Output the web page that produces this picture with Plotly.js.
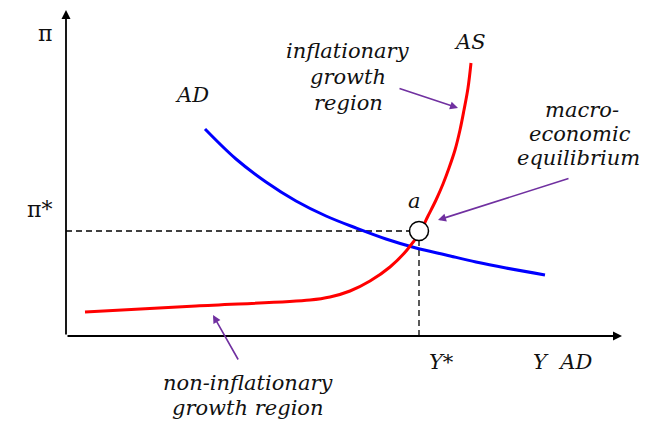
<!DOCTYPE html>
<html>
<head>
<meta charset="utf-8">
<script src="https://cdn.plot.ly/plotly-3.0.1.min.js"></script>
<style>
  html, body { margin: 0; padding: 0; background: #fff; }
  #chart { width: 653px; height: 424px; }
</style>
</head>
<body>
<div id="chart"></div>
<script>
// curve points, output on x, inflation on y (origin at the axes corner)
var ad_x = [139, 170, 200, 230, 260, 290, 320, 350, 380, 410, 440, 479];
var ad_y = [207, 177, 154, 135, 120, 108, 97, 88, 81, 74, 68, 61];

var as_x = [19, 130, 244, 264, 284, 304, 324, 341, 354, 362, 370, 377, 383, 389, 394, 398, 402, 405];
var as_y = [24, 30, 36, 39, 45, 55, 69, 86, 104, 120, 136, 152, 168, 186, 206, 226, 248, 273];

// equilibrium
var eq_x = [353];
var eq_y = [105];

// labels
var label_text = ['AD', 'AS', 'a', 'Y*', 'Y  AD',
                  'inflationary', 'growth', 'region',
                  'macro-', 'economic', 'equilibrium',
                  'non-inflationary', 'growth region'];
var label_x = [126, 404, 348, 375, 496, 282, 282, 282, 516, 514, 512, 182, 182];
var label_y = [241, 294, 135, -26, -26, 285, 259, 233, 226, 202, 178, -47, -72];

// purple arrows: head and tail
var arrow_head_x = [392, 372, 147];
var arrow_head_y = [228, 116, 21];
var arrow_tail_x = [332, 504, 173];
var arrow_tail_y = [248, 158, -25];

var fontFam = 'DejaVu Serif';
var purple = '#7030A0';

var traces = [
  {x: [0, eq_x[0]], y: [eq_y[0], eq_y[0]], mode: 'lines',
   line: {color: 'black', width: 1.3, dash: '6px,4px'}},
  {x: [eq_x[0], eq_x[0]], y: [0, eq_y[0]], mode: 'lines',
   line: {color: 'black', width: 1.3, dash: '6px,4px'}},
  {x: ad_x, y: ad_y, mode: 'lines',
   line: {color: '#0000ff', width: 3, shape: 'spline', smoothing: 1, simplify: false}},
  {x: as_x, y: as_y, mode: 'lines',
   line: {color: '#ff0000', width: 3, shape: 'spline', smoothing: 1, simplify: false}},
  {x: eq_x, y: eq_y, mode: 'markers',
   marker: {size: 19, color: 'white', line: {color: 'black', width: 1.5}}}
];

var annotations = [];
// axes with arrow heads
annotations.push({x: 556, y: 0, ax: 0, ay: 0, xref: 'x', yref: 'y', axref: 'x', ayref: 'y',
  text: '', showarrow: true, arrowhead: 2, arrowsize: 1, arrowwidth: 1.8, arrowcolor: 'black', standoff: 0});
annotations.push({x: 0, y: 326, ax: 0, ay: 0, xref: 'x', yref: 'y', axref: 'x', ayref: 'y',
  text: '', showarrow: true, arrowhead: 2, arrowsize: 1, arrowwidth: 1.8, arrowcolor: 'black', standoff: 0});

for (var i = 0; i < arrow_head_x.length; i++) {
  annotations.push({x: arrow_head_x[i], y: arrow_head_y[i], ax: arrow_tail_x[i], ay: arrow_tail_y[i],
    xref: 'x', yref: 'y', axref: 'x', ayref: 'y', text: '', showarrow: true,
    arrowhead: 2, arrowsize: 1, arrowwidth: 1.6, arrowcolor: purple, standoff: 0});
}

for (var j = 0; j < label_text.length; j++) {
  annotations.push({x: label_x[j], y: label_y[j], xref: 'x', yref: 'y', showarrow: false,
    text: '<i>' + label_text[j] + '</i>', xanchor: 'center', yanchor: 'middle',
    font: {family: fontFam, size: 21, color: '#111'}});
}
// pi labels (upright)
annotations.push({x: -21, y: 303, xref: 'x', yref: 'y', showarrow: false, text: 'π',
  font: {family: fontFam, size: 22, color: '#111'}});
annotations.push({x: -27, y: 127, xref: 'x', yref: 'y', showarrow: false, text: 'π*',
  font: {family: fontFam, size: 22, color: '#111'}});

var layout = {
  width: 653,
  height: 424,
  margin: {l: 0, r: 0, t: 0, b: 0},
  paper_bgcolor: 'white',
  plot_bgcolor: 'white',
  showlegend: false,
  xaxis: {range: [-66, 587], visible: false, fixedrange: true},
  yaxis: {range: [-88, 336], visible: false, fixedrange: true},
  annotations: annotations
};

Plotly.newPlot('chart', traces, layout, {displayModeBar: false, staticPlot: true});
</script>
</body>
</html>
